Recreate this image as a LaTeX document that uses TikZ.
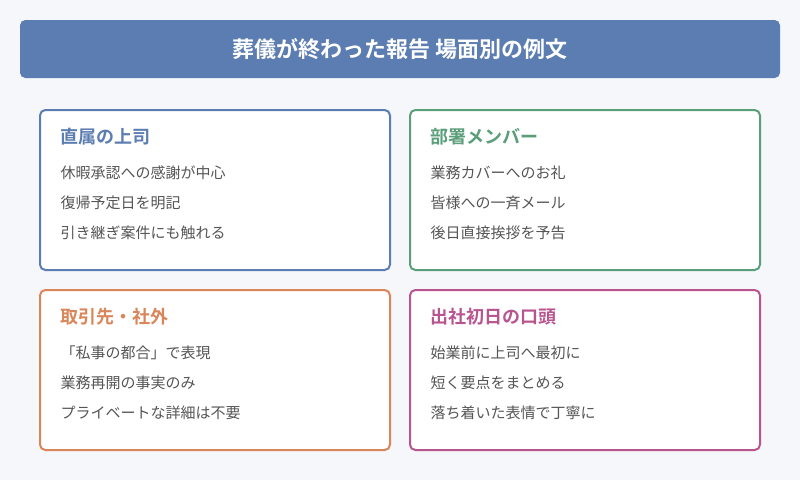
\documentclass[tikz,border=0pt]{standalone}
\usepackage{fontspec}
\newfontfamily\jp{Noto Sans CJK JP}
\newfontfamily\jpb{Noto Sans CJK JP Bold}
\definecolor{bgc}{HTML}{F5F7FA}
\definecolor{bluec}{HTML}{5B7DB1}
\definecolor{greenc}{HTML}{5A9E7A}
\definecolor{orangec}{HTML}{D9865A}
\definecolor{pinkc}{HTML}{B8558F}
\definecolor{textc}{HTML}{555555}
\tikzset{every picture/.style={line width=0.75pt},
  card/.style={draw=#1, fill=white, line width=1.5pt, rounded corners=4pt},
  head/.style={anchor=west, inner sep=0pt, text=#1, font=\jpb\fontsize{13.5}{16}\selectfont},
  item/.style={anchor=west, inner sep=0pt, text=textc, font=\jp\fontsize{11.25}{14}\selectfont}}

\begin{document}
\begin{tikzpicture}[x=0.75pt,y=0.75pt,yscale=-1,xscale=1]
\fill[bgc] (0,0) rectangle (800,480);
\useasboundingbox (0,0) rectangle (800,480);

%Title bar
\fill[bluec, rounded corners=4pt] (20,20) rectangle (780,78);
\node (title) at (400,49) [text=white, font=\jpb\fontsize{16.5}{20}\selectfont] {葬儀が終わった報告 場面別の例文};

%Cards
\draw[card=bluec] (40,110) rectangle (390,270);
\draw[card=greenc] (410,110) rectangle (760,270);
\draw[card=orangec] (40,290) rectangle (390,450);
\draw[card=pinkc] (410,290) rectangle (760,450);

% Card 1
\node (h1) at (60,137) [head=bluec] {直属の上司};
\node (a1) at (60,173) [item] {休暇承認への感謝が中心};
\node (a2) at (60,203) [item] {復帰予定日を明記};
\node (a3) at (60,233) [item] {引き継ぎ案件にも触れる};
% Card 2
\node (h2) at (430,137) [head=greenc] {部署メンバー};
\node (b1) at (430,173) [item] {業務カバーへのお礼};
\node (b2) at (430,203) [item] {皆様への一斉メール};
\node (b3) at (430,233) [item] {後日直接挨拶を予告};
% Card 3
\node (h3) at (60,317) [head=orangec] {取引先・社外};
\node (c1) at (60,353) [item] {「私事の都合」で表現};
\node (c2) at (60,383) [item] {業務再開の事実のみ};
\node (c3) at (60,413) [item] {プライベートな詳細は不要};
% Card 4
\node (h4) at (430,317) [head=pinkc] {出社初日の口頭};
\node (d1) at (430,353) [item] {始業前に上司へ最初に};
\node (d2) at (430,383) [item] {短く要点をまとめる};
\node (d3) at (430,413) [item] {落ち着いた表情で丁寧に};

\end{tikzpicture}
\end{document}
